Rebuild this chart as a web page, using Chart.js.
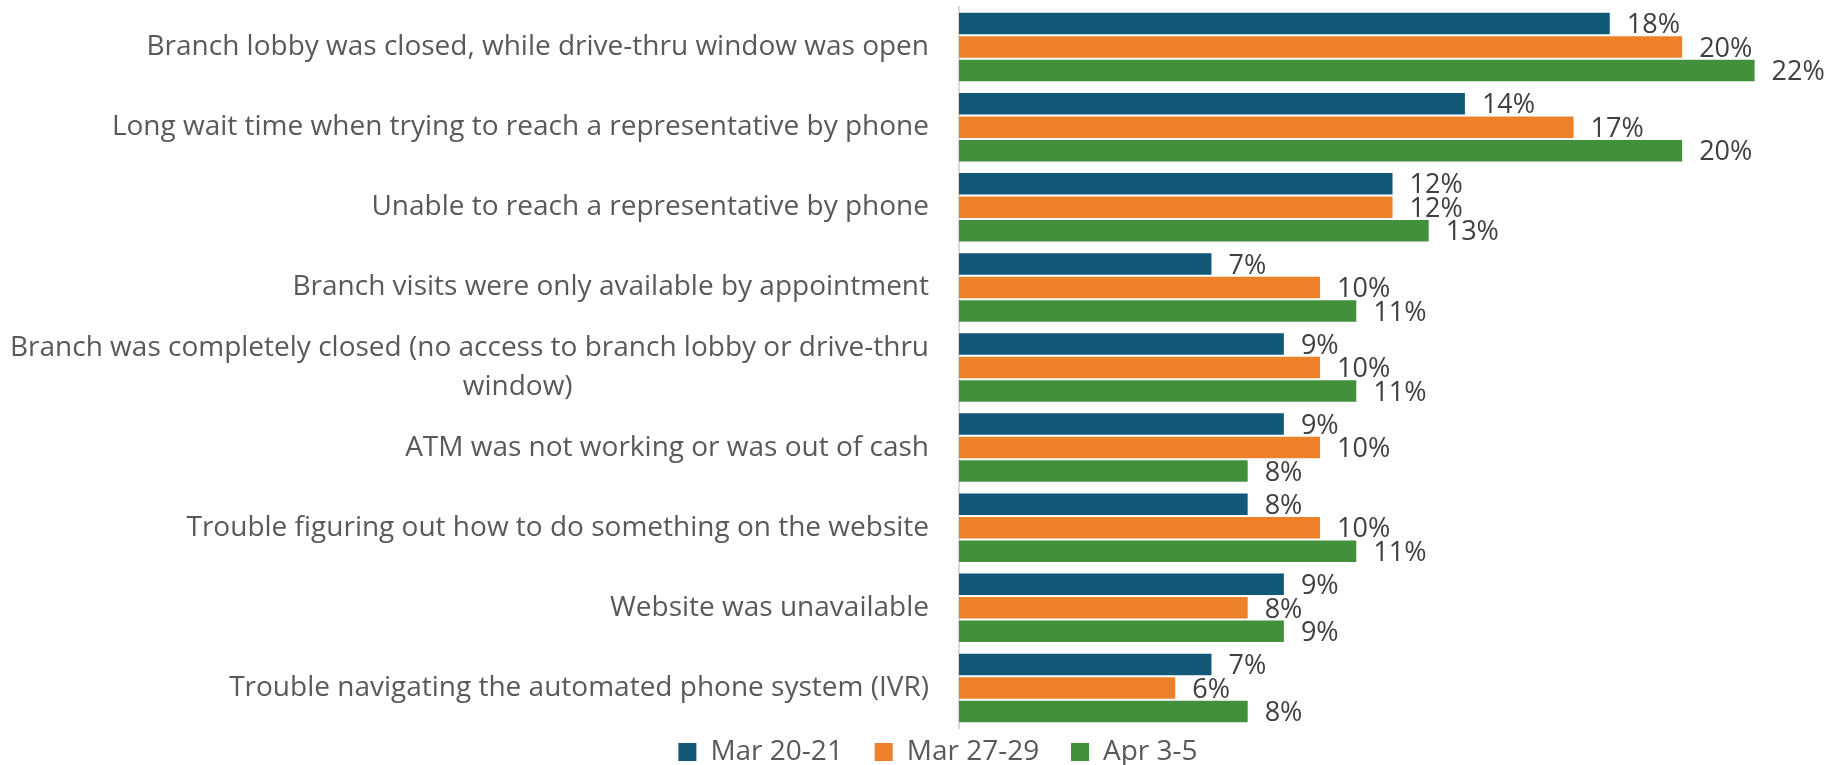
<!DOCTYPE html>
<html>
<head>
<meta charset="utf-8">
<script src="https://cdn.jsdelivr.net/npm/chart.js@4.4.1/dist/chart.umd.min.js"></script>
<style>
  html, body { margin: 0; padding: 0; background: #fff; }
</style>
</head>
<body>
<canvas id="chart" width="1831" height="765"></canvas>
<script>
// Categories, top to bottom
const categories = [
    'Branch lobby was closed, while drive-thru window was open',
    'Long wait time when trying to reach a representative by phone',
    'Unable to reach a representative by phone',
    'Branch visits were only available by appointment',
    'Branch was completely closed (no access to branch lobby or drive-thru|window)',
    'ATM was not working or was out of cash',
    'Trouble figuring out how to do something on the website',
    'Website was unavailable',
    'Trouble navigating the automated phone system (IVR)'
];

const seriesNames = ['Mar 20-21', 'Mar 27-29', 'Apr 3-5'];

// share of respondents (%)
const mar20 = [18, 14, 12, 7, 9, 9, 8, 9, 7];
const mar27 = [20, 17, 12, 10, 10, 10, 10, 8, 6];
const apr3 = [22, 20, 13, 11, 11, 8, 11, 9, 8];

const colors = ['#125877', '#EC8129', '#43903C'];

const FONT = 'Open Sans';
const LABEL_SIZE = 28;

// second line of the wrapped label sits further left, so pad it with spaces
const measure = document.createElement('canvas').getContext('2d');
measure.font = LABEL_SIZE + 'px "' + FONT + '"';
const spaceW = measure.measureText('\u00a0').width;

const labels = categories.map(c => {
    const parts = c.split('|');
    if (parts.length === 1) return c;
    return [parts[0], parts[1] + '\u00a0'.repeat(Math.round(356 / spaceW))];
});

// draw the value at the end of each bar
const valueLabels = {
    id: 'valueLabels',
    afterDatasetsDraw(chart) {
        const ctx = chart.ctx;
        ctx.save();
        ctx.font = '27px "' + FONT + '"';
        ctx.fillStyle = '#404040';
        ctx.textAlign = 'left';
        ctx.textBaseline = 'middle';
        chart.data.datasets.forEach((ds, i) => {
            chart.getDatasetMeta(i).data.forEach((bar, j) => {
                ctx.fillText(ds.data[j] + '%', bar.x + 16, bar.y + 2);
            });
        });
        ctx.restore();
    }
};

// nudge the legend a bit right so it sits under the plot
const legendShift = {
    id: 'legendShift',
    afterLayout(chart) {
        chart.legend.left += 24;
        chart.legend.right += 24;
    }
};

const ctx = document.getElementById('chart').getContext('2d');
new Chart(ctx, {
    type: 'bar',
    data: {
        labels: labels,
        datasets: [mar20, mar27, apr3].map((d, i) => ({
            label: seriesNames[i],
            data: d,
            backgroundColor: colors[i],
            borderColor: 'rgba(255,255,255,0.55)',
            borderWidth: 1,
            categoryPercentage: 0.88,
            barPercentage: 1.0
        }))
    },
    options: {
        indexAxis: 'y',
        responsive: false,
        animation: false,
        layout: { padding: { left: 0, right: 3, top: 7, bottom: -11 } },
        scales: {
            x: {
                display: false,
                min: 0,
                max: 24
            },
            y: {
                grid: { display: false },
                border: { display: true, color: '#D9D9D9', width: 2 },
                ticks: {
                    autoSkip: false,
                    padding: 22,
                    color: '#595959',
                    font: { family: FONT, size: LABEL_SIZE, lineHeight: 1.4 }
                },
                afterFit(scale) {
                    scale.width = 959;
                    scale.paddingTop = 0;
                    scale.paddingBottom = 0;
                }
            }
        },
        plugins: {
            legend: {
                position: 'bottom',
                labels: {
                    boxWidth: 18,
                    boxHeight: 18,
                    padding: 10,
                    color: '#595959',
                    font: { family: FONT, size: 28 },
                    generateLabels(chart) {
                        const items = Chart.defaults.plugins.legend.labels.generateLabels(chart);
                        items.forEach((it, i) => {
                            it.lineWidth = 0;
                            if (i < items.length - 1) it.text += '\u00a0\u00a0\u00a0';
                        });
                        return items;
                    }
                }
            },
            tooltip: { enabled: false }
        }
    },
    plugins: [valueLabels, legendShift]
});
</script>
</body>
</html>
